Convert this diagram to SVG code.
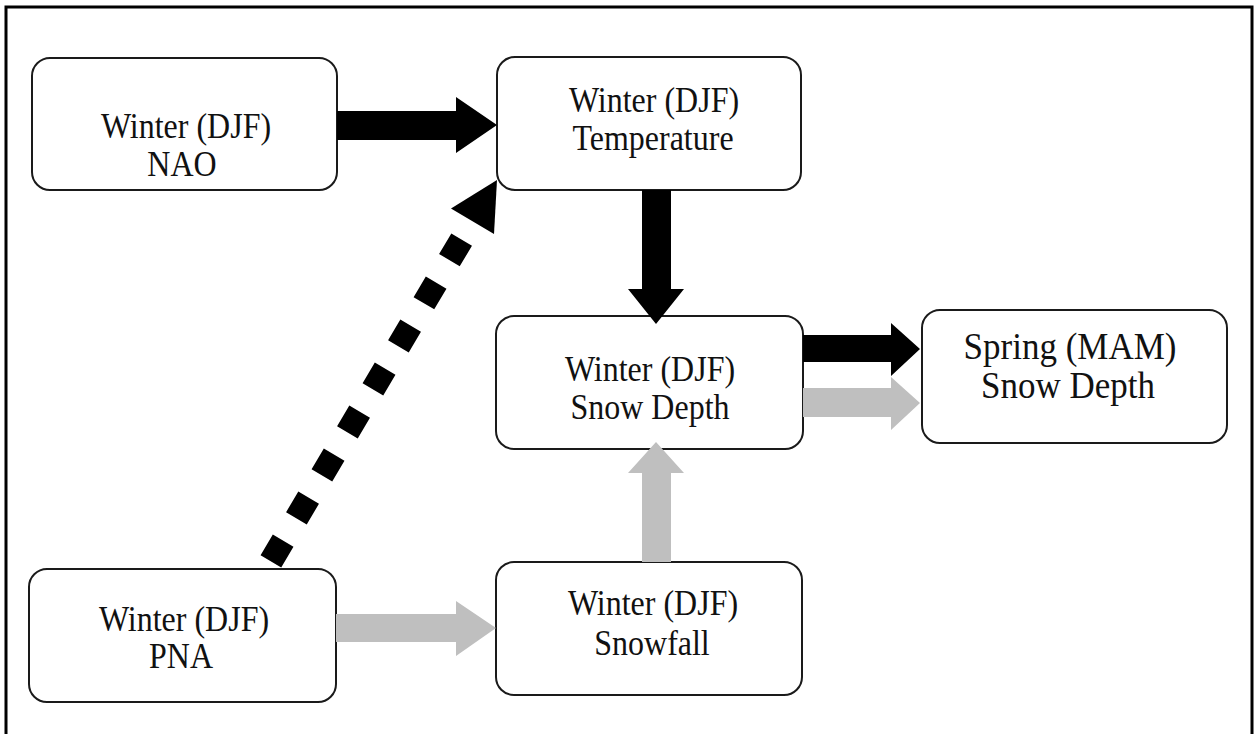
<svg xmlns="http://www.w3.org/2000/svg" width="1259" height="734" viewBox="0 0 1259 734">
<style>
.box{fill:#fff;stroke:#1a1a1a;stroke-width:2}
.t{font-family:"Liberation Serif","Times New Roman",serif;font-size:32px;fill:#111;text-anchor:middle}
.s{font-size:35px}
.blk{fill:#000}
.gry{fill:#bfbfbf}
</style>
<rect width="1259" height="734" fill="#fff"/>
<path d="M6,740 V7 H1252 V740" fill="none" stroke="#000" stroke-width="3"/>
<g id="nao">
<rect class="box" x="32" y="58" width="305" height="132" rx="18"/>
<text class="t" transform="translate(186,138) scale(1,1.12)">Winter (DJF)</text>
<text class="t" transform="translate(182,176) scale(1,1.12)">NAO</text>
</g>
<g id="temperature">
<rect class="box" x="497" y="57" width="304" height="133" rx="18"/>
<text class="t" transform="translate(654,112) scale(1,1.12)">Winter (DJF)</text>
<text class="t" transform="translate(653,150) scale(1,1.12)">Temperature</text>
</g>
<g id="snowdepth">
<rect class="box" x="496" y="316" width="307" height="133" rx="18"/>
<text class="t" transform="translate(650,381) scale(1,1.12)">Winter (DJF)</text>
<text class="t" transform="translate(650,419) scale(1,1.12)">Snow Depth</text>
</g>
<g id="spring">
<rect class="box" x="922" y="310" width="305" height="133" rx="18"/>
<text class="t s" transform="translate(1070,359) scale(1,1.1)">Spring (MAM)</text>
<text class="t s" transform="translate(1068,398) scale(1,1.1)">Snow Depth</text>
</g>
<g id="pna">
<rect class="box" x="29" y="569" width="307" height="133" rx="18"/>
<text class="t" transform="translate(184,631) scale(1,1.12)">Winter (DJF)</text>
<text class="t" transform="translate(181,668) scale(1,1.12)">PNA</text>
</g>
<g id="snowfall">
<rect class="box" x="496" y="562" width="306" height="133" rx="18"/>
<text class="t" transform="translate(653,615) scale(1,1.12)">Winter (DJF)</text>
<text class="t" transform="translate(652,655) scale(1,1.12)">Snowfall</text>
</g>
<g id="connectors">
<polygon class="blk" points="337,111 456,111 456,97 497,125 456,153 456,140 337,140"/>
<polygon class="blk" points="642,190 671,190 671,289 684,289 656,324 628,289 642,289"/>
<polygon class="blk" points="803,335 891,335 891,323 920,349 891,376 891,362 803,362"/>
<polygon class="gry" points="803,388 891,388 891,377 920,403 891,430 891,417 803,417"/>
<polygon class="gry" points="642,562 671,562 671,473 684,473 656,442 628,473 642,473"/>
<polygon class="gry" points="336,614 456,614 456,601 496,628 456,656 456,642 336,642"/>
<line x1="270.9" y1="561.3" x2="472.5" y2="221.3" stroke="#000" stroke-width="24" stroke-dasharray="24 26"/>
<polygon class="blk" points="497,180 494,234 451,208.5"/>
</g>
</svg>
